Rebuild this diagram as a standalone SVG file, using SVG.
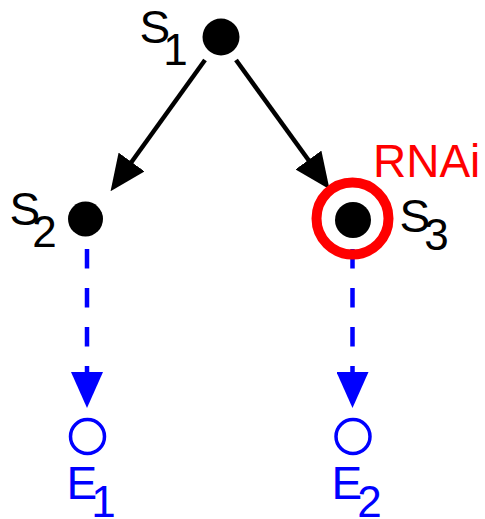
<svg xmlns="http://www.w3.org/2000/svg" width="485" height="519" viewBox="0 0 485 519">
  <style>
    .lbl { font-family: "Liberation Sans", Arial, Helvetica, sans-serif; font-size: 46px; }
    .sub { font-size: 44px; }
    .blk { fill: #000; }
    .blu { fill: #0000ff; }
    .red { fill: #ff0000; }
    .dot { fill: #000; }
    .edge { stroke: #000; stroke-width: 4.5; fill: none; }
    .dash { stroke: #0000ff; stroke-width: 4.5; fill: none; stroke-dasharray: 19.5 19.5; }
    .endpt { fill: none; stroke: #0000ff; stroke-width: 3.5; }
  </style>
  <defs>
    <marker id="headBlack" viewBox="0 0 36 32" refX="1" refY="16" markerWidth="36" markerHeight="32" markerUnits="userSpaceOnUse" orient="auto">
      <path d="M0,0 L36,16 L0,32 z" fill="#000"/>
    </marker>
    <marker id="headBlue" viewBox="0 0 36 32" refX="1" refY="16" markerWidth="36" markerHeight="32" markerUnits="userSpaceOnUse" orient="auto">
      <path d="M0,0 L36,16 L0,32 z" fill="#0000ff"/>
    </marker>
  </defs>

  <g id="connectors">
    <line class="edge" x1="205" y1="60" x2="131" y2="162.8" marker-end="url(#headBlack)"/>
    <line class="edge" x1="236" y1="60" x2="309" y2="160.8" marker-end="url(#headBlack)"/>
    <line class="dash" x1="87" y1="249" x2="87" y2="373" marker-end="url(#headBlue)"/>
    <line class="dash" x1="352.5" y1="249" x2="352.5" y2="373" marker-end="url(#headBlue)"/>
  </g>

  <g id="S1">
    <circle class="dot" cx="221" cy="37" r="18.5"/>
    <text class="lbl blk" x="139.5" y="43">S<tspan class="sub" dx="-7" dy="22">1</tspan></text>
  </g>

  <g id="S2">
    <circle class="dot" cx="85.5" cy="219" r="17.5"/>
    <text class="lbl blk" x="9.5" y="225">S<tspan class="sub" dx="-8" dy="21.5">2</tspan></text>
  </g>

  <g id="S3">
    <circle cx="352.5" cy="218.5" r="36" fill="none" stroke="#ff0000" stroke-width="10"/>
    <circle class="dot" cx="353" cy="220" r="18"/>
    <text class="lbl blk" x="399.5" y="231.5">S<tspan class="sub" dx="-6" dy="18.5">3</tspan></text>
  </g>

  <g id="RNAi">
    <text class="lbl red" x="373" y="177">RNAi</text>
  </g>

  <g id="E1">
    <circle class="endpt" cx="87.5" cy="436.5" r="17"/>
    <text class="lbl blu" x="66.5" y="499">E<tspan class="sub" dx="-6" dy="18">1</tspan></text>
  </g>

  <g id="E2">
    <circle class="endpt" cx="353" cy="436.5" r="17"/>
    <text class="lbl blu" x="331.5" y="499">E<tspan class="sub" dx="-5" dy="18">2</tspan></text>
  </g>
</svg>
